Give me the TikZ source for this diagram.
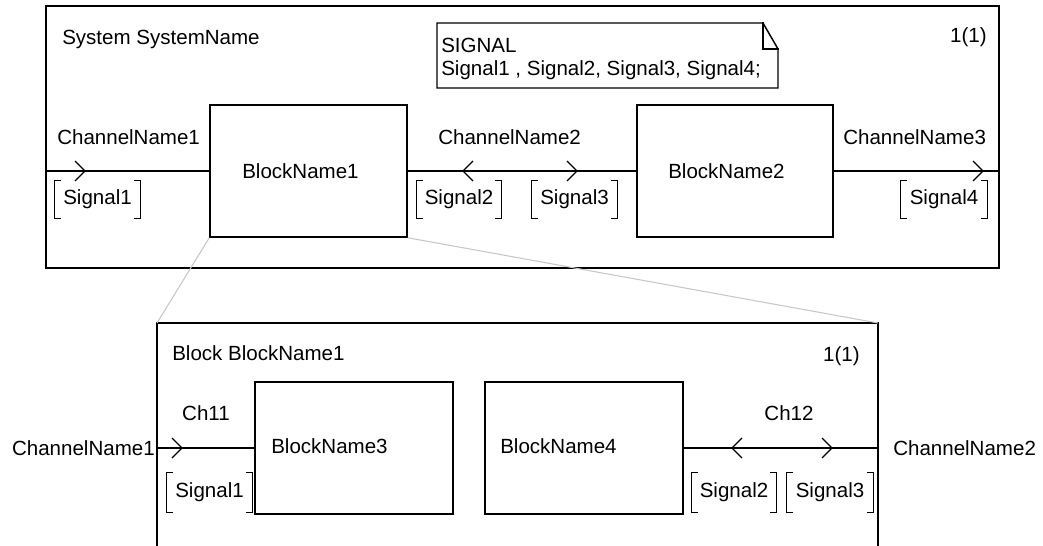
\documentclass[tikz,border=0pt]{standalone}
\usepackage{fontspec}
\setmainfont{Liberation Sans}
\usetikzlibrary{fit}
\newcommand\dfont{\fontsize{15.4}{18}\selectfont}
% square brackets round a signal list node
\newcommand\sigbrackets[1]{%
  \draw[wire] ([xshift=4pt]#1.north west) -- (#1.north west) -- (#1.south west) -- ([xshift=4pt]#1.south west);
  \draw[wire] ([xshift=-4pt]#1.north east) -- (#1.north east) -- (#1.south east) -- ([xshift=-4pt]#1.south east);}
\tikzset{
  wire/.style={line width=1.1pt, line cap=rect},
  lbl/.style={inner sep=0pt, font=\dfont},
  block/.style={draw, line width=1.1pt, inner sep=0pt},
  sig/.style={lbl, minimum height=27.75pt},
  zoomline/.style={draw=black!22, line width=0.8pt},
  chevR/.pic={\draw[line width=0.9pt] (-10,-10) -- (0,0) -- (-10,10);},
  chevL/.pic={\draw[line width=0.9pt] (10,-10) -- (0,0) -- (10,10);},
}
\begin{document}
\begin{tikzpicture}[x=0.75pt, y=-0.75pt]
\useasboundingbox (0,0) rectangle (1043,546);

% system frame
\node[block, fit={(46,6) (999,268)}] (sys) {};
\node[lbl, anchor=base west] (systitle) at (62,44) {System SystemName};
\node[lbl, anchor=base east] (syspage) at (987,42) {1(1)};

% signal declaration comment with folded corner
\draw[wire] (437,23) -- (763,23) -- (778,49) -- (778,88) -- (437,88) -- cycle;
\draw[wire] (763,23) -- (763,49) -- (778,49);
\node[lbl, anchor=base west] (decl1) at (441,52) {SIGNAL};
\node[lbl, anchor=base west] (decl2) at (441,75) {Signal1 , Signal2, Signal3, Signal4;};

% blocks of the system
\node[block, fit={(210,105) (407,237)}] (b1) {};
\node[lbl, anchor=base west] (b1t) at (242,178) {BlockName1};
\node[block, fit={(637,105) (833,237)}] (b2) {};
\node[lbl, anchor=base west] (b2t) at (668,178) {BlockName2};

% channels of the system
\coordinate (c1a) at (46,171);
\coordinate (c3b) at (999,171);
\draw[wire] (c1a) -- (b1.west);
\draw[wire] (b1.east) -- (b2.west);
\draw[wire] (b2.east) -- (c3b);
\pic at (85,171) {chevR};
\pic at (463,171) {chevL};
\pic at (577,171) {chevR};
\pic at (983,171) {chevR};

\node[lbl, anchor=base west] (ch1) at (57,144) {ChannelName1};
\node[lbl, anchor=base west] (ch2) at (438,144) {ChannelName2};
\node[lbl, anchor=base west] (ch3) at (843,144) {ChannelName3};

\node[sig, minimum width=63.75pt] (s1) at (97.5,199.5) {Signal1};
\node[sig, minimum width=63pt] (s2) at (459,199.5) {Signal2};
\node[sig, minimum width=63.75pt] (s3) at (574.5,199.5) {Signal3};
\node[sig, minimum width=64.5pt] (s4) at (944,199.5) {Signal4};
\sigbrackets{s1}\sigbrackets{s2}\sigbrackets{s3}\sigbrackets{s4}

% block frame (continues below the page edge)
\coordinate (bf-nw) at (157,323);
\coordinate (bf-ne) at (878,323);
\coordinate (bf-sw) at (157,546);
\coordinate (bf-se) at (878,546);
\draw[wire, line cap=butt] (bf-sw) -- (bf-nw) -- (bf-ne) -- (bf-se);
\node[lbl, anchor=base west] (blktitle) at (172,360) {Block BlockName1};
\node[lbl, anchor=base east] (blkpage) at (860,361) {1(1)};

% blocks inside BlockName1
\node[block, fit={(255,382) (453,514)}] (b3) {};
\node[lbl, anchor=base west] (b3t) at (271,453) {BlockName3};
\node[block, fit={(485,382) (683,514)}] (b4) {};
\node[lbl, anchor=base west] (b4t) at (500,453) {BlockName4};

% channels inside BlockName1
\coordinate (c11a) at (157,448);
\coordinate (c12b) at (878,448);
\draw[wire] (c11a) -- (b3.west);
\draw[wire] (b4.east) -- (c12b);
\pic at (182,448) {chevR};
\pic at (732,448) {chevL};
\pic at (832,448) {chevR};

\node[lbl, anchor=base] (ch11) at (206,420) {Ch11};
\node[lbl, anchor=base] (ch12) at (789,420) {Ch12};
\node[lbl, anchor=base east] (ext1) at (155,455) {ChannelName1};
\node[lbl, anchor=base west] (ext2) at (893,455) {ChannelName2};

\node[sig, minimum width=63.75pt, minimum height=29.25pt] (s5) at (209.5,492.5) {Signal1};
\node[sig, minimum width=63pt, minimum height=29.25pt] (s6) at (734,492.5) {Signal2};
\node[sig, minimum width=64.5pt, minimum height=29.25pt] (s7) at (830,492.5) {Signal3};
\sigbrackets{s5}\sigbrackets{s6}\sigbrackets{s7}

% zoom lines from BlockName1 to its expansion
\draw[zoomline] (b1.south west) -- (bf-nw);
\draw[zoomline] (b1.south east) -- (bf-ne);
\end{tikzpicture}
\end{document}
